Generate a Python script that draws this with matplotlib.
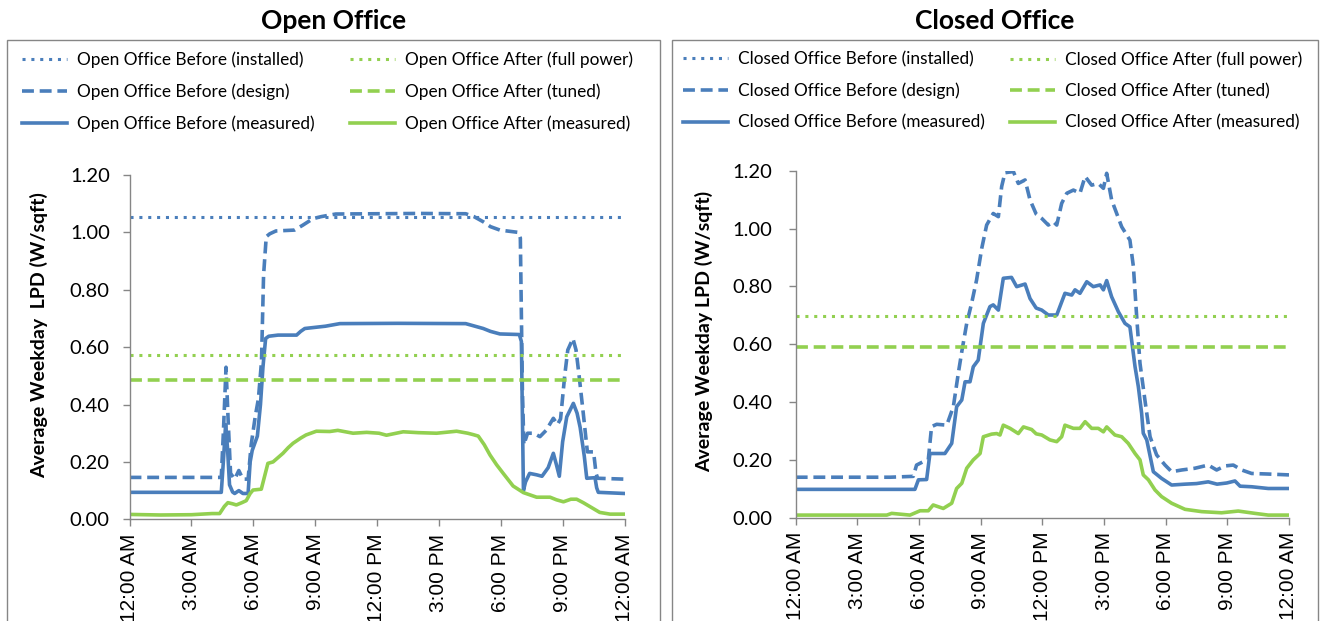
import matplotlib
matplotlib.use("Agg")
import matplotlib.pyplot as plt
from matplotlib.patches import Rectangle

# ---------------- data ----------------
hour_ticks = [0, 3, 6, 9, 12, 15, 18, 21, 24]
hour_labels = ["12:00 AM", "3:00 AM", "6:00 AM", "9:00 AM", "12:00 PM",
               "3:00 PM", "6:00 PM", "9:00 PM", "12:00 AM"]

open_installed = 1.055
open_full_power = 0.572
open_tuned = 0.485

open_design_h = [0, 4.45, 4.55, 4.68, 4.78, 4.9, 5.1, 5.3, 5.5, 5.75, 5.9, 6.1, 6.25, 6.4, 6.5,
                 6.63, 6.8, 7.1, 8.0, 8.4, 8.9, 9.3, 10.0, 12.0, 14.0, 16.3, 16.7, 17.15, 17.5,
                 17.96, 18.85, 18.95, 19.05, 19.12, 19.3, 19.6, 19.9, 20.2, 20.55, 20.75, 20.9,
                 21.1, 21.25, 21.5, 21.65, 21.8, 22.0, 22.2, 22.5, 22.62, 22.7, 24.0]
open_design_v = [0.146, 0.146, 0.30, 0.53, 0.35, 0.16, 0.14, 0.17, 0.14, 0.14, 0.26, 0.36, 0.42,
                 0.55, 0.85, 0.985, 0.995, 1.005, 1.008, 1.025, 1.048, 1.055, 1.064, 1.065, 1.066,
                 1.065, 1.055, 1.037, 1.02, 1.008, 1.0, 0.98, 0.45, 0.26, 0.30, 0.30, 0.288, 0.31,
                 0.352, 0.33, 0.35, 0.50, 0.59, 0.63, 0.59, 0.50, 0.37, 0.235, 0.235, 0.16, 0.143,
                 0.14]

open_measured_h = [0, 4.45, 4.55, 4.66, 4.75, 4.85, 5.0, 5.1, 5.3, 5.5, 5.75, 5.85, 5.95, 6.2,
                   6.35, 6.47, 6.6, 6.75, 7.2, 8.1, 8.3, 8.5, 9.5, 10.2, 13.0, 16.3, 16.7, 17.15,
                   17.5, 17.96, 18.9, 19.0, 19.1, 19.2, 19.4, 19.74, 20.0, 20.3, 20.55, 20.7,
                   20.84, 21.0, 21.2, 21.52, 21.7, 21.85, 22.05, 22.17, 22.57, 22.65, 22.73, 24.0]
open_measured_v = [0.094, 0.094, 0.20, 0.33, 0.25, 0.12, 0.095, 0.09, 0.10, 0.09, 0.09, 0.20,
                   0.24, 0.29, 0.40, 0.53, 0.63, 0.638, 0.642, 0.642, 0.655, 0.665, 0.673, 0.682,
                   0.683, 0.682, 0.674, 0.665, 0.655, 0.646, 0.644, 0.62, 0.10, 0.13, 0.16, 0.155,
                   0.15, 0.18, 0.23, 0.19, 0.15, 0.27, 0.357, 0.404, 0.37, 0.32, 0.22, 0.143,
                   0.145, 0.11, 0.094, 0.09]

open_after_h = [0, 1.5, 3.0, 4.0, 4.37, 4.6, 4.77, 5.0, 5.18, 5.45, 5.66, 5.85, 5.99, 6.39, 6.55,
                6.71, 6.96, 7.2, 7.44, 7.7, 7.93, 8.3, 8.56, 9.06, 9.71, 10.1, 10.84, 11.5, 12.1,
                12.46, 13.27, 14.0, 14.89, 15.86, 16.4, 16.67, 16.91, 17.2, 17.48, 17.8, 18.12,
                18.6, 19.1, 19.74, 20.39, 20.7, 21.04, 21.4, 21.68, 22.0, 22.33, 22.8, 23.3, 24.0]
open_after_v = [0.017, 0.015, 0.016, 0.02, 0.02, 0.045, 0.058, 0.054, 0.05, 0.058, 0.065, 0.09,
                0.102, 0.105, 0.15, 0.195, 0.20, 0.215, 0.23, 0.25, 0.265, 0.283, 0.294, 0.307,
                0.306, 0.31, 0.30, 0.303, 0.30, 0.293, 0.305, 0.302, 0.30, 0.307, 0.30, 0.295,
                0.29, 0.26, 0.224, 0.19, 0.16, 0.116, 0.093, 0.077, 0.077, 0.068, 0.061, 0.07,
                0.07, 0.058, 0.044, 0.024, 0.018, 0.018]

closed_full_power = 0.697
closed_tuned = 0.591

closed_design_h = [0, 4.59, 5.72, 5.88, 6.21, 6.45, 6.61, 6.86, 7.35, 7.67, 7.91, 8.08, 8.32,
                   8.56, 8.8, 9.05, 9.29, 9.61, 9.86, 10.02, 10.18, 10.59, 10.83, 11.16, 11.4,
                   11.7, 11.97, 12.29, 12.53, 12.7, 12.94, 13.19, 13.51, 13.83, 14.08, 14.4,
                   14.72, 14.97, 15.13, 15.37, 15.86, 16.26, 16.43, 16.59, 16.75, 16.99, 17.24,
                   17.56, 17.97, 18.29, 18.78, 19.42, 20.07, 20.48, 20.88, 21.29, 21.7, 22.18,
                   22.99, 24.0]
closed_design_v = [0.140, 0.140, 0.143, 0.182, 0.194, 0.20, 0.315, 0.323, 0.32, 0.384, 0.499,
                   0.574, 0.672, 0.742, 0.822, 0.931, 1.012, 1.052, 1.041, 1.145, 1.193, 1.197,
                   1.156, 1.168, 1.099, 1.05, 1.035, 1.012, 1.024, 1.012, 1.087, 1.122, 1.133,
                   1.122, 1.18, 1.15, 1.156, 1.139, 1.191, 1.099, 1.006, 0.96, 0.868, 0.695,
                   0.534, 0.407, 0.28, 0.217, 0.182, 0.159, 0.165, 0.171, 0.182, 0.165, 0.179,
                   0.182, 0.165, 0.153, 0.151, 0.148]

closed_measured_h = [0, 5.8, 5.97, 6.37, 6.53, 7.26, 7.59, 7.83, 8.08, 8.24, 8.48, 8.64, 8.88,
                     9.13, 9.45, 9.61, 9.86, 10.1, 10.5, 10.75, 11.16, 11.4, 11.7, 11.97, 12.29,
                     12.7, 13.1, 13.43, 13.59, 13.83, 14.16, 14.48, 14.81, 14.97, 15.13, 15.37,
                     15.7, 16.02, 16.26, 16.51, 16.67, 16.83, 16.91, 17.08, 17.4, 17.8, 18.29,
                     18.94, 19.5, 20.07, 20.5, 20.97, 21.37, 21.62, 22.18, 22.99, 24.0]
closed_measured_v = [0.098, 0.098, 0.131, 0.132, 0.222, 0.222, 0.257, 0.384, 0.407, 0.47, 0.47,
                     0.522, 0.545, 0.672, 0.73, 0.736, 0.718, 0.828, 0.831, 0.799, 0.808, 0.758,
                     0.725, 0.718, 0.701, 0.701, 0.776, 0.770, 0.788, 0.776, 0.816, 0.799, 0.805,
                     0.788, 0.82, 0.764, 0.712, 0.672, 0.66, 0.522, 0.453, 0.361, 0.292, 0.269,
                     0.159, 0.136, 0.113, 0.116, 0.118, 0.124, 0.116, 0.12, 0.127, 0.109, 0.107,
                     0.101, 0.101]

closed_after_h = [0, 4.43, 4.67, 5.56, 6.05, 6.45, 6.69, 7.18, 7.59, 7.83, 8.08, 8.32, 8.64,
                  8.97, 9.13, 9.53, 9.78, 9.94, 10.1, 10.43, 10.83, 11.08, 11.48, 11.7, 11.97,
                  12.37, 12.7, 12.94, 13.1, 13.51, 13.83, 14.08, 14.4, 14.72, 14.97, 15.13,
                  15.53, 15.86, 16.18, 16.51, 16.75, 16.91, 17.16, 17.48, 17.8, 18.29, 18.94,
                  19.75, 20.72, 21.53, 22.34, 22.99, 24.0]
closed_after_v = [0.009, 0.009, 0.015, 0.009, 0.024, 0.024, 0.044, 0.032, 0.05, 0.101, 0.119,
                  0.171, 0.2, 0.222, 0.280, 0.289, 0.291, 0.286, 0.32, 0.309, 0.291, 0.314,
                  0.305, 0.29, 0.286, 0.269, 0.263, 0.280, 0.32, 0.309, 0.309, 0.332, 0.309,
                  0.309, 0.297, 0.314, 0.286, 0.280, 0.257, 0.222, 0.2, 0.148, 0.131, 0.096,
                  0.073, 0.05, 0.029, 0.021, 0.017, 0.023, 0.015, 0.009, 0.009]

# ---------------- style ----------------
BLUE = "#4A7EBB"
GREEN = "#92D050"
GRAY = "#868686"
CAL = ["Lato", "DejaVu Sans"]
ARI = ["Liberation Sans", "DejaVu Sans"]

W, H = 1321, 621
fig = plt.figure(figsize=(W / 100, H / 100), dpi=100)

def fx(px):
    return px / W

def fy(py):
    return 1 - py / H

dotted = (0, (1.0, 1.9))
dashed = (0, (3.3, 1.6))

# outer frames
for x0, x1 in [(7, 660), (672, 1318)]:
    fig.patches.append(Rectangle((fx(x0), -0.05), fx(x1 - x0), fy(40) + 0.05,
                                 transform=fig.transFigure, fill=False,
                                 edgecolor=GRAY, linewidth=1.0))

fig.text(fx(333.5), fy(21), "Open Office", ha="center", va="center",
         fontsize=19, fontweight="bold", family=CAL)
fig.text(fx(995), fy(21), "Closed Office", ha="center", va="center",
         fontsize=19, fontweight="bold", family=CAL)

def make_axes(left, right, top, bottom, ypad):
    ax = fig.add_axes([fx(left), fy(bottom), fx(right - left), fy(top) - fy(bottom)])
    ax.set_xlim(0, 24)
    ax.set_ylim(0, 1.2)
    for s in ["top", "right"]:
        ax.spines[s].set_visible(False)
    for s in ["left", "bottom"]:
        ax.spines[s].set_color(GRAY)
        ax.spines[s].set_linewidth(1.0)
    ax.set_xticks(hour_ticks)
    ax.set_xticklabels(hour_labels, rotation=90, fontsize=15, family=ARI, va="top")
    ax.set_yticks([0, 0.2, 0.4, 0.6, 0.8, 1.0, 1.2])
    ax.set_yticklabels(["%.2f" % v for v in [0, 0.2, 0.4, 0.6, 0.8, 1.0, 1.2]],
                       fontsize=14.5, family=CAL)
    ax.tick_params(axis="both", direction="out", length=4.7, color=GRAY, width=1.0)
    ax.tick_params(axis="x", pad=5.5)
    ax.tick_params(axis="y", pad=ypad)
    ax.patch.set_alpha(0)
    return ax

def draw_panel(ax, installed, full_power, tuned, d_h, d_v, m_h, m_v, a_h, a_v):
    if installed is not None:
        l1, = ax.plot([0, 24], [installed, installed], color=BLUE, lw=2.2, ls=dotted)
    else:
        l1, = ax.plot([], [], color=BLUE, lw=2.2, ls=dotted)
    l2, = ax.plot(d_h, d_v, color=BLUE, lw=2.6, ls=dashed)
    l3, = ax.plot(m_h, m_v, color=BLUE, lw=2.6, solid_joinstyle="round")
    l4, = ax.plot([0, 24], [full_power, full_power], color=GREEN, lw=2.2, ls=dotted)
    l5, = ax.plot([0, 24], [tuned, tuned], color=GREEN, lw=2.6, ls=dashed)
    l6, = ax.plot(a_h, a_v, color=GREEN, lw=2.6, solid_joinstyle="round")
    return [l1, l2, l3], [l4, l5, l6]

def add_legends(ax, before, after, x_col1, x_col2, name):
    kw = dict(loc="upper left", bbox_transform=fig.transFigure, frameon=False,
              prop={"family": CAL, "size": 12.4}, handlelength=2.6, handletextpad=0.58,
              labelspacing=0.9, borderpad=0, borderaxespad=0)
    lab1 = [f"{name} Before (installed)", f"{name} Before (design)",
            f"{name} Before (measured)"]
    lab2 = [f"{name} After (full power)", f"{name} After (tuned)",
            f"{name} After (measured)"]
    leg1 = ax.legend(before, lab1, bbox_to_anchor=(fx(x_col1), fy(51)), **kw)
    ax.add_artist(leg1)
    ax.legend(after, lab2, bbox_to_anchor=(fx(x_col2), fy(51)), **kw)

ax1 = make_axes(129.5, 624.5, 175, 519.3, ypad=9.5)
b, a = draw_panel(ax1, open_installed, open_full_power, open_tuned,
                  open_design_h, open_design_v, open_measured_h, open_measured_v,
                  open_after_h, open_after_v)
add_legends(ax1, b, a, 22, 350, "Open Office")
ax1.set_ylabel("Average Weekday  LPD (W/sqft)", fontsize=14, fontweight="bold", family=CAL)
ax1.yaxis.set_label_coords((48 - 129.5) / 495, 0.534)

ax2 = make_axes(795.7, 1289, 170.7, 517.7, ypad=12)
b, a = draw_panel(ax2, None, closed_full_power, closed_tuned,
                  closed_design_h, closed_design_v, closed_measured_h, closed_measured_v,
                  closed_after_h, closed_after_v)
add_legends(ax2, b, a, 683, 1010, "Closed Office")
ax2.set_ylabel("Average Weekday LPD (W/sqft)", fontsize=14, fontweight="bold", family=CAL)
ax2.yaxis.set_label_coords((713 - 795.7) / 493.3, 0.538)

fig.savefig("out.png", dpi=100)
